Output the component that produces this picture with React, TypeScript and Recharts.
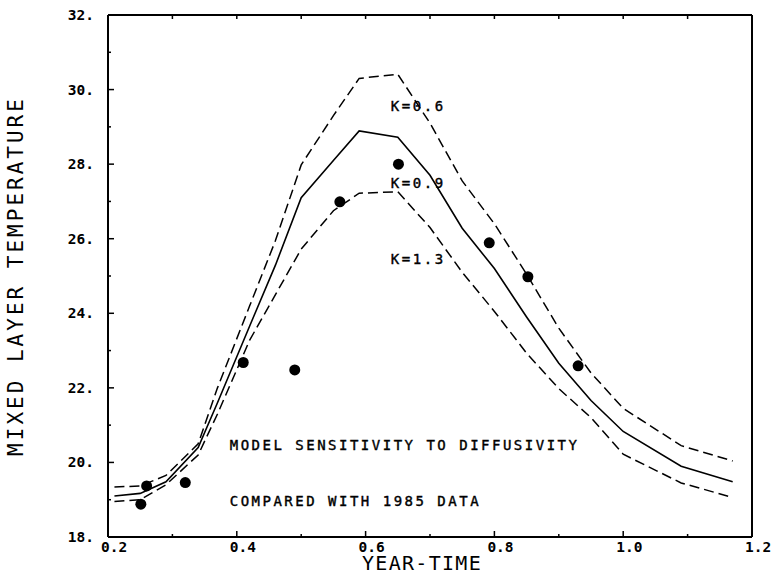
import { ComposedChart, Line, Scatter, XAxis, YAxis, ReferenceDot } from 'recharts';

// model runs: mixed layer temperature vs year-time, three diffusivities
const times = [0.21, 0.25, 0.29, 0.34, 0.37, 0.42, 0.46, 0.5, 0.55, 0.59, 0.65, 0.7, 0.75, 0.8, 0.85, 0.9, 0.95, 1.0, 1.09, 1.17];
const k06 = [19.34, 19.37, 19.65, 20.5, 22.0, 24.2, 25.95, 27.98, 29.3, 30.3, 30.41, 29.1, 27.55, 26.4, 25.05, 23.6, 22.4, 21.45, 20.45, 20.04];
const k09 = [19.1, 19.17, 19.48, 20.4, 21.6, 23.66, 25.29, 27.1, 28.1, 28.89, 28.72, 27.7, 26.28, 25.2, 23.9, 22.66, 21.66, 20.83, 19.9, 19.48];
const k13 = [18.95, 19.0, 19.4, 20.2, 21.3, 23.28, 24.5, 25.72, 26.75, 27.22, 27.26, 26.3, 25.1, 24.05, 22.93, 21.98, 21.2, 20.22, 19.45, 19.06];

// 1985 observations
const obsTime = [0.251, 0.26, 0.32, 0.41, 0.49, 0.56, 0.651, 0.792, 0.852, 0.93];
const obsTemp = [18.88, 19.37, 19.46, 22.68, 22.48, 26.99, 28.0, 25.89, 24.98, 22.59];

const xTicks = [0.2, 0.3, 0.4, 0.5, 0.6, 0.7, 0.8, 0.9, 1.0, 1.1, 1.2];
const yTicks = [18, 19, 20, 21, 22, 23, 24, 25, 26, 27, 28, 29, 30, 31, 32];

const curveLabels = ['K=0.6', 'K=0.9', 'K=1.3'];
const curveLabelAt = [
  [0.639, 29.56],
  [0.639, 27.49],
  [0.639, 25.46],
];
const notes = ['MODEL SENSITIVITY TO DIFFUSIVITY', 'COMPARED WITH 1985 DATA'];
const noteAt = [
  [0.389, 20.47],
  [0.389, 18.97],
];

const data = times.map((t, i) => ({ t, k06: k06[i], k09: k09[i], k13: k13[i] }));
const obs = obsTime.map((t, i) => ({ t, temp: obsTemp[i] }));

const FONT = '"DejaVu Sans Mono", monospace';
const INK = '#000';

const isMajorX = (v: number) => Math.round(v * 10) % 2 === 0;

function BottomTick(props: any) {
  const { x, y, payload } = props;
  const v = payload.value;
  const major = isMajorX(v);
  return (
    <g>
      <line x1={x} y1={y} x2={x} y2={y - (major ? 6 : 3)} stroke={INK} strokeWidth={1.5} />
      {major && (
        <text x={x - 7} y={y} dy={15} textAnchor="start" fontFamily={FONT} fontWeight="bold" fontSize={14.5} fill={INK}>
          {v.toFixed(1)}
        </text>
      )}
    </g>
  );
}

function TopTick(props: any) {
  const { x, y } = props;
  return <line x1={x} y1={y} x2={x} y2={y + 4} stroke={INK} strokeWidth={1.5} />;
}

function LeftTick(props: any) {
  const { x, y, payload } = props;
  const v = payload.value;
  const major = v % 2 === 0;
  return (
    <g>
      <line x1={x} y1={y} x2={x + (major ? 6 : 3)} y2={y} stroke={INK} strokeWidth={1.5} />
      {major && (
        <text x={x - 14} y={y} dy={5} textAnchor="end" fontFamily={FONT} fontWeight="bold" fontSize={14.5} fill={INK}>
          {`${v}.`}
        </text>
      )}
    </g>
  );
}

function RightTick(props: any) {
  const { x, y } = props;
  return <line x1={x} y1={y} x2={x - 5} y2={y} stroke={INK} strokeWidth={1.5} />;
}

function XTitle(props: any) {
  const { viewBox } = props;
  return (
    <text
      x={viewBox.x + viewBox.width / 2 - 8}
      y={viewBox.y + 33}
      textAnchor="middle"
      fontFamily={FONT}
      fontSize={20}
      letterSpacing={1.3}
      fill={INK}
    >
      YEAR-TIME
    </text>
  );
}

function YTitle(props: any) {
  const { viewBox } = props;
  const cx = viewBox.x - 84;
  const cy = viewBox.y + viewBox.height / 2;
  return (
    <text
      x={cx}
      y={cy}
      transform={`rotate(-90 ${cx} ${cy})`}
      textAnchor="middle"
      fontFamily={FONT}
      fontSize={21}
      letterSpacing={3}
      fill={INK}
    >
      MIXED LAYER TEMPERATURE
    </text>
  );
}

function TextAt({ viewBox, text, size, spacing }: any) {
  return (
    <text
      x={viewBox.x}
      y={viewBox.y}
      dy={size * 0.36}
      fontFamily={FONT}
      fontSize={size}
      letterSpacing={spacing}
      stroke={INK}
      strokeWidth={0.4}
      fill={INK}
    >
      {text}
    </text>
  );
}

function Dot(props: any) {
  const { cx, cy } = props;
  return <circle cx={cx} cy={cy} r={5.5} fill={INK} />;
}

export default function App() {
  const axisLine = { stroke: INK, strokeWidth: 2 };
  return (
    <div style={{ position: 'absolute', left: 0, top: 0, background: '#fff' }}>
      <ComposedChart width={776} height={575} data={data} margin={{ top: 14, right: 23, bottom: 37, left: 107 }}>
        <XAxis
          dataKey="t"
          type="number"
          domain={[0.2, 1.2]}
          ticks={xTicks}
          interval={0}
          height={1}
          tickSize={0}
          tickMargin={0}
          tickLine={false}
          axisLine={axisLine}
          tick={<BottomTick />}
          label={{ content: (p: any) => <XTitle {...p} /> }}
        />
        <XAxis
          xAxisId="top"
          orientation="top"
          dataKey="t"
          type="number"
          domain={[0.2, 1.2]}
          ticks={xTicks}
          interval={0}
          height={1}
          tickSize={0}
          tickMargin={0}
          tickLine={false}
          axisLine={axisLine}
          tick={<TopTick />}
        />
        <YAxis
          type="number"
          domain={[18, 32]}
          ticks={yTicks}
          interval={0}
          width={1}
          tickSize={0}
          tickMargin={0}
          tickLine={false}
          axisLine={axisLine}
          tick={<LeftTick />}
          label={{ content: (p: any) => <YTitle {...p} /> }}
        />
        <YAxis
          yAxisId="right"
          orientation="right"
          type="number"
          domain={[18, 32]}
          ticks={yTicks}
          interval={0}
          width={1}
          tickSize={0}
          tickMargin={0}
          tickLine={false}
          axisLine={axisLine}
          tick={<RightTick />}
        />

        <Line dataKey="k06" type="linear" stroke={INK} strokeWidth={1.5} strokeDasharray="10 5" dot={false} isAnimationActive={false} />
        <Line dataKey="k09" type="linear" stroke={INK} strokeWidth={1.6} dot={false} isAnimationActive={false} />
        <Line dataKey="k13" type="linear" stroke={INK} strokeWidth={1.5} strokeDasharray="10 5" dot={false} isAnimationActive={false} />
        <Scatter data={obs} dataKey="temp" shape={<Dot />} isAnimationActive={false} />

        {curveLabels.map((txt, i) => (
          <ReferenceDot
            key={txt}
            x={curveLabelAt[i][0]}
            y={curveLabelAt[i][1]}
            r={0}
            stroke="none"
            label={(p: any) => <TextAt viewBox={p.viewBox} text={txt} size={14} spacing={2.6} />}
          />
        ))}
        {notes.map((txt, i) => (
          <ReferenceDot
            key={txt}
            x={noteAt[i][0]}
            y={noteAt[i][1]}
            r={0}
            stroke="none"
            label={(p: any) => <TextAt viewBox={p.viewBox} text={txt} size={14} spacing={2.5} />}
          />
        ))}
      </ComposedChart>
    </div>
  );
}
